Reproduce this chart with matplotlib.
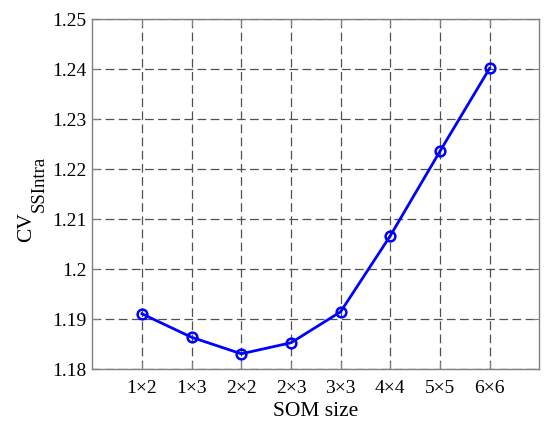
import matplotlib
matplotlib.use("Agg")
import matplotlib.pyplot as plt

categories = ["1×2", "1×3", "2×2", "2×3", "3×3", "4×4", "5×5", "6×6"]
cv_values = [1.1911, 1.1864, 1.1831, 1.1853, 1.1915, 1.2067, 1.2236, 1.2402]
y_ticks = [1.18, 1.19, 1.20, 1.21, 1.22, 1.23, 1.24, 1.25]
y_tick_labels = ["1.18", "1.19", "1.2", "1.21", "1.22", "1.23", "1.24", "1.25"]

plt.rcParams['font.family'] = ['Liberation Serif', 'DejaVu Serif']

W, H = 550, 430
fig = plt.figure(figsize=(5.5, 4.3), dpi=100)
ax = fig.add_axes([0.1678, 0.1412, 0.8127, 0.8139])

x = list(range(1, len(categories) + 1))
ax.plot(x, cv_values, color=(0, 0, 1), linewidth=2.0, marker='o', markersize=7,
        markerfacecolor='none', markeredgecolor=(0, 0, 1), markeredgewidth=1.8, zorder=3)

ax.set_xlim(0, 9)
ax.set_ylim(1.18, 1.25)
ax.set_xticks(x)
ax.set_xticklabels(categories)
ax.set_yticks(y_ticks)
ax.set_yticklabels(y_tick_labels)

ax.grid(True, linestyle=(0, (7, 3.5)), linewidth=0.9, color='#505050')
for s in ax.spines.values():
    s.set_color('#808080')
    s.set_linewidth(1.0)
ax.tick_params(direction='in', length=5, width=0.8, color='#808080',
               labelsize=14, labelcolor='black', top=True, right=True)
ax.tick_params(axis='x', pad=8)
ax.tick_params(axis='y', pad=4)

ax.set_xlabel('SOM size', fontsize=15.5, labelpad=3)

# y label: CV with a large subscript (MATLAB style)
fig.text(26.8 / W, 1 - 226.7 / H, 'CV', rotation=90, ha='center', va='center', fontsize=15.5)
fig.text(39.5 / W, 1 - 183.5 / H, 'SSIntra', rotation=90, ha='center', va='center', fontsize=13.5)

fig.savefig('out.png', dpi=100)
